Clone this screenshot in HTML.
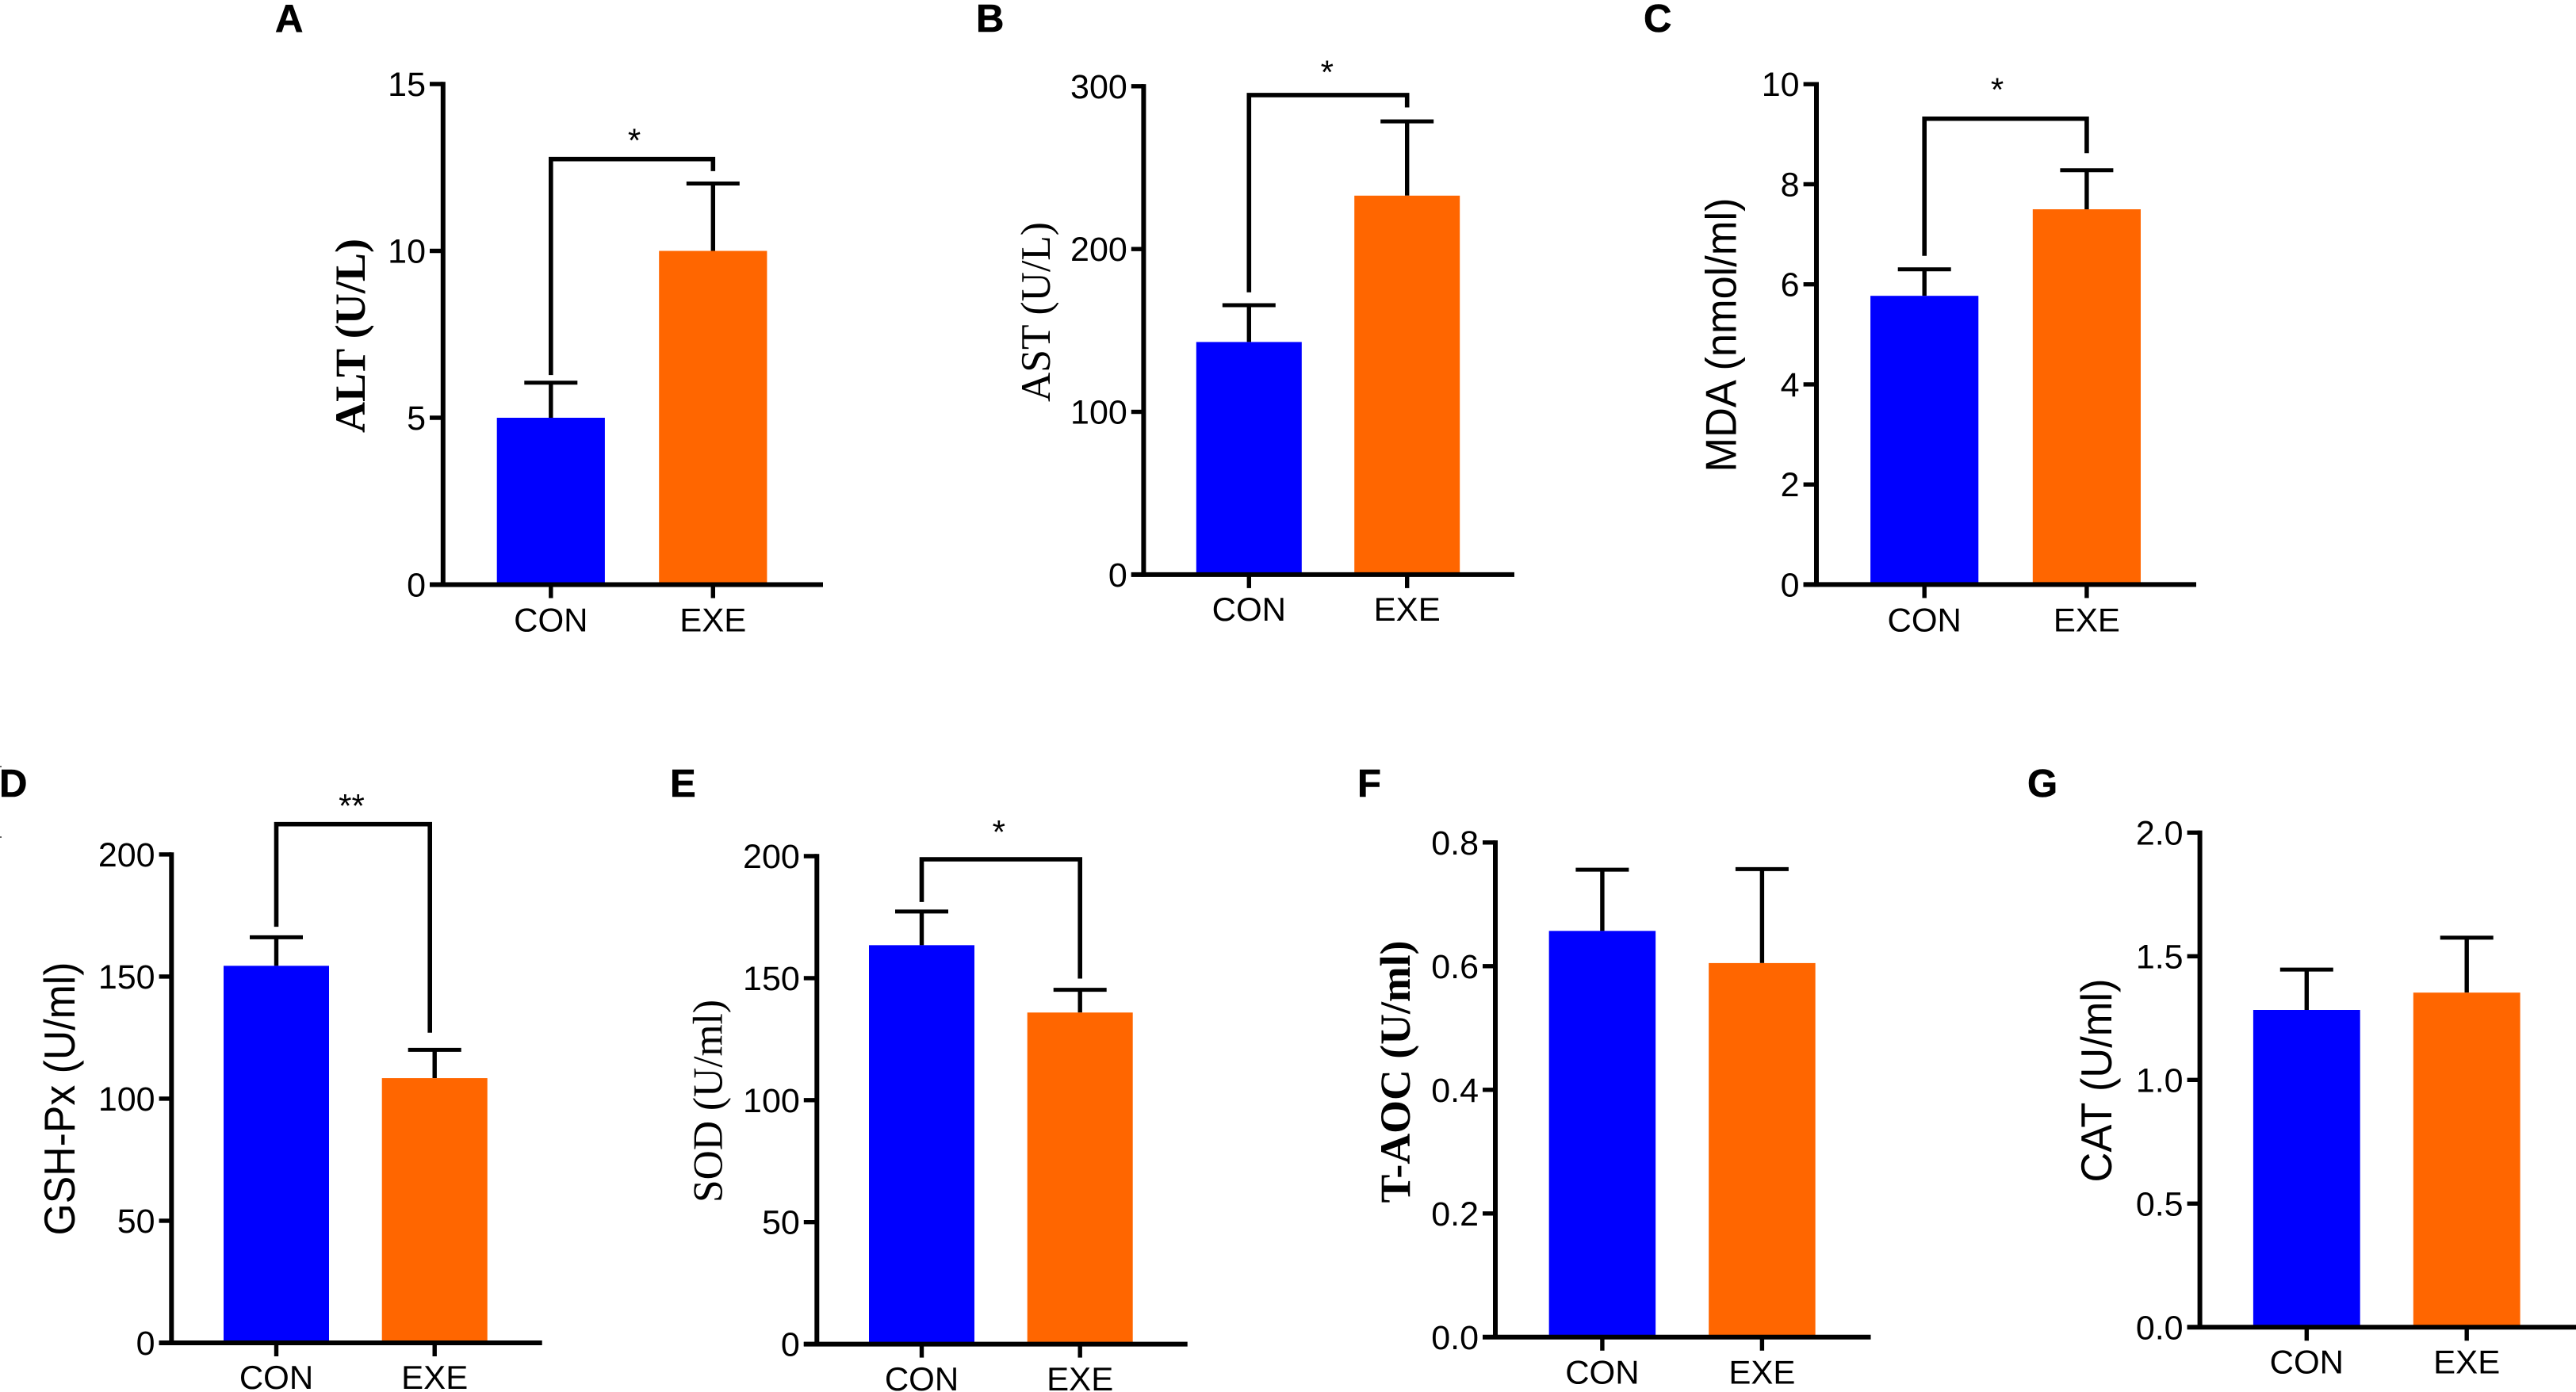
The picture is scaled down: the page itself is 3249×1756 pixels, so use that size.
<!DOCTYPE html>
<html lang="en">
<head>
<meta charset="utf-8">
<title>Serum biochemical indicators, CON vs EXE</title>
<style>
html,body{margin:0;padding:0;background:#fff;}
svg{display:block;}
text{fill:#000;}
.letter{font:bold 49px "Liberation Sans",sans-serif;stroke:#000;stroke-width:.6px;}
.sans{font-family:"Liberation Sans",sans-serif;font-size:55px;}
.serif{font-family:"Liberation Serif",serif;font-size:53px;}
.serifb{font-family:"Liberation Serif",serif;font-weight:bold;font-size:54px;}
.tick{font-family:"Liberation Sans",sans-serif;font-size:43px;}
.cat{font-family:"Liberation Sans",sans-serif;font-size:42px;}
.star{font-family:"Liberation Sans",sans-serif;font-size:42px;}
</style>
</head>
<body>
<svg id="figure" xmlns="http://www.w3.org/2000/svg" width="3249" height="1756" viewBox="0 0 3249 1756">
  <rect width="3249" height="1756" fill="#fff"/>
  <rect x="0" y="966" width="2" height="2" fill="#666"/>
  <rect x="0" y="1055" width="2" height="2" fill="#666"/>

  <g id="panel-a">
    <text class="letter" x="347" y="40">A</text>
    <text class="serifb" text-anchor="middle" textLength="245" lengthAdjust="spacingAndGlyphs" transform="translate(460 423.5) rotate(-90)">ALT (U/L)</text>
  </g>
  <g id="panel-b">
    <text class="letter" x="1231" y="40">B</text>
    <text class="serif" text-anchor="middle" textLength="227" lengthAdjust="spacingAndGlyphs" transform="translate(1324 393.5) rotate(-90)">AST (U/L)</text>
  </g>
  <g id="panel-c">
    <text class="letter" x="2073" y="40">C</text>
    <text class="sans" text-anchor="middle" textLength="346" lengthAdjust="spacingAndGlyphs" transform="translate(2189.5 422.5) rotate(-90)">MDA (nmol/ml)</text>
  </g>
  <g id="panel-d">
    <text class="letter" x="-1" y="1005">D</text>
    <text class="sans" text-anchor="middle" textLength="345" lengthAdjust="spacingAndGlyphs" transform="translate(94 1386) rotate(-90)">GSH-Px (U/ml)</text>
  </g>
  <g id="panel-e">
    <text class="letter" x="845" y="1005">E</text>
    <text class="serif" text-anchor="middle" textLength="256" lengthAdjust="spacingAndGlyphs" transform="translate(910.5 1389) rotate(-90)">SOD (U/ml)</text>
  </g>
  <g id="panel-f">
    <text class="letter" x="1712" y="1005">F</text>
    <text class="serifb" text-anchor="middle" textLength="331" lengthAdjust="spacingAndGlyphs" transform="translate(1778 1352) rotate(-90)">T-AOC (U/ml)</text>
  </g>
  <g id="panel-g">
    <text class="letter" x="2557" y="1005">G</text>
    <text class="sans" text-anchor="middle" textLength="257" lengthAdjust="spacingAndGlyphs" transform="translate(2663 1363) rotate(-90)">CAT (U/ml)</text>
  </g>
</svg>

<script>
// ---- Data ----
const categories = ['CON', 'EXE'];

const ticksA = ['0', '5', '10', '15'];
const meansA = [5.0, 10.0];
const errorsA = [1.05, 2.02];
const bracketA = [12.75, 6.28, 12.39];
const signifA = '*';

const ticksB = ['0', '100', '200', '300'];
const meansB = [142.9, 232.8];
const errorsB = [22.6, 45.6];
const bracketB = [294.6, 173.4, 287];
const signifB = '*';

const ticksC = ['0', '2', '4', '6', '8', '10'];
const meansC = [5.77, 7.5];
const errorsC = [0.53, 0.78];
const bracketC = [9.31, 6.57, 8.62];
const signifC = '*';

const ticksD = ['0', '50', '100', '150', '200'];
const meansD = [154.4, 108.4];
const errorsD = [11.7, 11.6];
const bracketD = [212.4, 170.4, 127];
const signifD = '**';

const ticksE = ['0', '50', '100', '150', '200'];
const meansE = [163.5, 135.9];
const errorsE = [13.8, 9.3];
const bracketE = [198.7, 181.2, 149.8];
const signifE = '*';

const ticksF = ['0.0', '0.2', '0.4', '0.6', '0.8'];
const meansF = [0.657, 0.605];
const errorsF = [0.099, 0.152];

const ticksG = ['0.0', '0.5', '1.0', '1.5', '2.0'];
const meansG = [1.283, 1.353];
const errorsG = [0.163, 0.222];

// ---- Panel geometry ----
const SVGNS = 'http://www.w3.org/2000/svg';
const AXIS_W = 6, TICK_W = 5.4, ERR_W = 5.4, CAP_W = 5, BRACKET_W = 5.6;
const BLUE = '#0000ff', ORANGE = '#ff6600';

const panels = [
  { id: 'a', ticks: ticksA, means: meansA, errors: errorsA, bracket: bracketA, signif: signifA,
    axisX: 558.8, base: 737.5, top: 106, tickLeft: 542, xEnd: 1038, centers: [694.8, 899.3], barW: 136.2, labelY: 796.5, starX: 800, starGap: 9.3 },
  { id: 'b', ticks: ticksB, means: meansB, errors: errorsB, bracket: bracketB, signif: signifB,
    axisX: 1442.4, base: 724.9, top: 108.8, tickLeft: 1426.8, xEnd: 1910, centers: [1575.3, 1774.7], barW: 133, labelY: 783, starX: 1673.8, starGap: 14.3 },
  { id: 'c', ticks: ticksC, means: meansC, errors: errorsC, bracket: bracketC, signif: signifC,
    axisX: 2291, base: 737.4, top: 106.2, tickLeft: 2274.6, xEnd: 2770, centers: [2427.2, 2631.9], barW: 136.2, labelY: 796.5, starX: 2519, starGap: 22.5 },
  { id: 'd', ticks: ticksD, means: meansD, errors: errorsD, bracket: bracketD, signif: signifD,
    axisX: 216.3, base: 1694, top: 1077.9, tickLeft: 200.6, xEnd: 683.7, centers: [348.5, 548.2], barW: 133, labelY: 1752, starX: 443.5, starGap: 8.5, bracketRightX: 542.2 },
  { id: 'e', ticks: ticksE, means: meansE, errors: errorsE, bracket: bracketE, signif: signifE,
    axisX: 1030.3, base: 1695.6, top: 1080, tickLeft: 1013.8, xEnd: 1497.7, centers: [1162.5, 1362.2], barW: 133, labelY: 1754, starX: 1259.8, starGap: 20 },
  { id: 'f', ticks: ticksF, means: meansF, errors: errorsF,
    axisX: 1886, base: 1686.8, top: 1062.8, tickLeft: 1870, xEnd: 2359.5, centers: [2020.9, 2222.4], barW: 134.5, labelY: 1745.6 },
  { id: 'g', ticks: ticksG, means: meansG, errors: errorsG,
    axisX: 2774.6, base: 1674.3, top: 1050.3, tickLeft: 2758.6, xEnd: 3249, centers: [2909.3, 3111.2], barW: 134.8, labelY: 1732.6 }
];

function make(tag, attrs, parent) {
  const node = document.createElementNS(SVGNS, tag);
  for (const key in attrs) node.setAttribute(key, attrs[key]);
  parent.appendChild(node);
  return node;
}

function drawPanel(p) {
  const group = document.getElementById('panel-' + p.id);
  const tickValues = p.ticks.map(parseFloat);
  const maxValue = tickValues[tickValues.length - 1];
  const y = function (v) { return p.base - (v / maxValue) * (p.base - p.top); };

  // bars and error bars
  p.means.forEach(function (mean, i) {
    const cx = p.centers[i];
    const catName = categories[i].toLowerCase();
    const yTop = y(mean);
    const yCap = y(mean + p.errors[i]);

    const stem = make('line', { x1: cx, x2: cx, y1: yTop, y2: yCap, stroke: '#000', 'stroke-width': ERR_W }, group);
    
    

    const cap = make('line', { x1: cx - 33.5, x2: cx + 33.5, y1: yCap, y2: yCap, stroke: '#000', 'stroke-width': CAP_W }, group);
    
    

    const bar = make('rect', { x: cx - p.barW / 2, y: yTop, width: p.barW, height: p.base - yTop, fill: i === 0 ? BLUE : ORANGE }, group);
    
    

    const xTick = make('line', { x1: cx, x2: cx, y1: p.base, y2: p.base + 17, stroke: '#000', 'stroke-width': TICK_W }, group);
    
    

    const label = make('text', { x: cx, y: p.labelY, 'text-anchor': 'middle', class: 'cat' }, group);
    
    
    label.textContent = categories[i];
  });

  // y ticks
  p.ticks.forEach(function (tickText, i) {
    const ty = y(tickValues[i]);
    const tick = make('line', { x1: p.tickLeft, x2: p.axisX, y1: ty, y2: ty, stroke: '#000', 'stroke-width': TICK_W }, group);
    
    

    const label = make('text', { x: p.tickLeft - 5, y: ty + 15, 'text-anchor': 'end', class: 'tick' }, group);
    
    
    label.textContent = tickText;
  });

  // axes
  const yAxis = make('line', { x1: p.axisX, x2: p.axisX, y1: p.top - 2.7, y2: p.base + 2.7, stroke: '#000', 'stroke-width': AXIS_W }, group);
  
  

  const xAxis = make('line', { x1: p.tickLeft, x2: p.xEnd, y1: p.base, y2: p.base, stroke: '#000', 'stroke-width': AXIS_W }, group);
  
  

  // significance bracket
  if (p.bracket) {
    const xL = p.centers[0];
    const xR = p.bracketRightX || p.centers[1];
    const yB = y(p.bracket[0]);
    const path = make('path', {
      d: 'M' + xL + ' ' + y(p.bracket[1]) + 'V' + yB + 'H' + xR + 'V' + y(p.bracket[2]),
      fill: 'none', stroke: '#000', 'stroke-width': BRACKET_W, 'stroke-linejoin': 'miter'
    }, group);
    
    

    const star = make('text', { x: p.starX, y: yB - p.starGap, 'text-anchor': 'middle', class: 'star' }, group);
    
    
    star.textContent = p.signif;
  }
}

panels.forEach(drawPanel);
</script>
</body>
</html>
